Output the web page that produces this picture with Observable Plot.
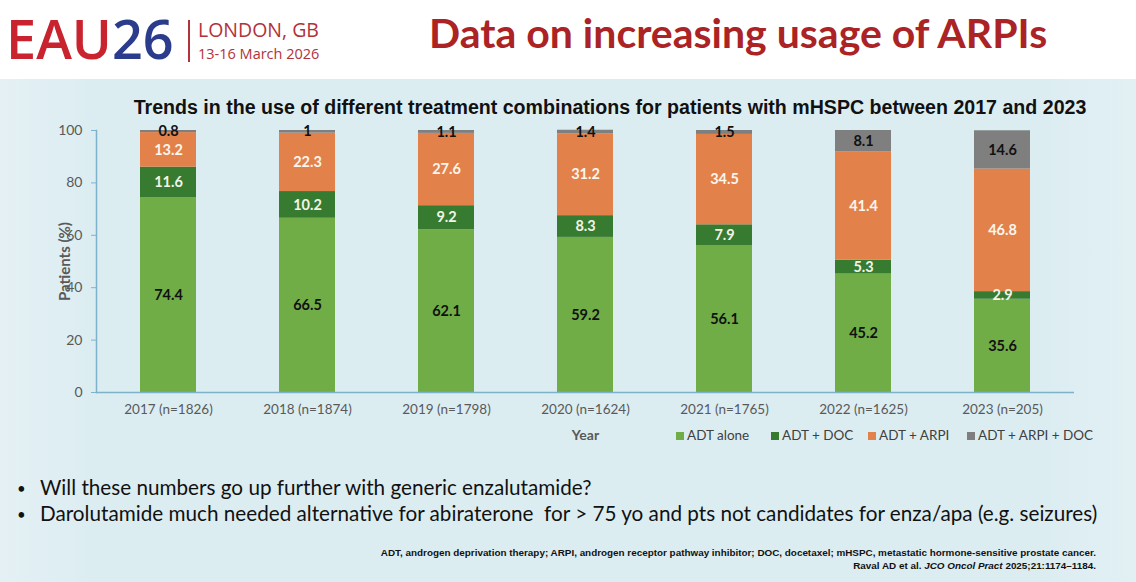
<!DOCTYPE html>
<html>
<head>
<meta charset="utf-8">
<script src="https://cdn.jsdelivr.net/npm/d3@7"></script>
<script src="https://cdn.jsdelivr.net/npm/@observablehq/plot@0.6"></script>
<style>
  html, body { margin: 0; padding: 0; }
  body { width: 1136px; height: 582px; position: relative; overflow: hidden; background: #ffffff; font-family: Lato, "Open Sans", sans-serif; }
  .header { position: absolute; left: 0; top: 0; width: 1136px; height: 79px; background: #ffffff; }
  .panel { position: absolute; left: 0; top: 79px; width: 1136px; height: 503px; background: linear-gradient(90deg, #e4f0f4 0%, #dcedf2 8%, #dcedf2 92%, #e2f0f4 100%); }
  .logo { position: absolute; left: 6px; top: 5px; font-family: "Open Sans", sans-serif; font-weight: 600; font-size: 54px; letter-spacing: 0px; line-height: 66px; }
  .logo .eau { color: #c9232f; }
  .logo .n26 { color: #2c3c8c; }
  .vbar { position: absolute; left: 188px; top: 20px; width: 1.5px; height: 42px; background: #b3323b; }
  .city { position: absolute; left: 198px; top: 18px; font-family: "Open Sans", sans-serif; font-size: 19.5px; color: #b2323b; line-height: 24px; }
  .date { position: absolute; left: 198px; top: 44px; font-family: "Open Sans", sans-serif; font-size: 14.5px; color: #b2323b; line-height: 20px; }
  .slidetitle { position: absolute; left: 429px; top: 8px; font-family: Lato, sans-serif; font-weight: 700; font-size: 41px; color: #ab2324; line-height: 50px; white-space: nowrap; }
  .charttitle { position: absolute; left: 0; width: 1220px; top: 96px; text-align: center; font-family: "Liberation Sans", Arial, sans-serif; font-weight: 700; font-size: 19.6px; color: #111; white-space: nowrap; }
  #chart { position: absolute; left: 0; top: 120px; }
  .legend { position: absolute; left: 676px; top: 427px; font-family: Lato, sans-serif; font-size: 13.5px; color: #404040; white-space: nowrap; }
  .legend span.item { position: absolute; top: 0; }
  .legend i { display: inline-block; width: 8px; height: 8px; margin-right: 3px; vertical-align: 0px; }
  .bullets { position: absolute; left: 14px; top: 474px; font-family: Lato, sans-serif; font-size: 20.7px; color: #111; line-height: 26px; white-space: nowrap; }
  .bullets div { position: relative; padding-left: 26px; }
  .bullets div::before { content: "•"; position: absolute; left: 3px; top: 1px; font-size: 15px; }
  .foot { position: absolute; right: 40px; top: 546px; text-align: right; font-family: "Liberation Sans", Arial, sans-serif; font-size: 9.9px; font-weight: 700; color: #111; line-height: 13px; white-space: nowrap; }
</style>
</head>
<body>
<div class="header"></div>
<div class="panel"></div>
<div class="logo"><span class="eau">EAU</span><span class="n26">26</span></div>
<div class="vbar"></div>
<div class="city">LONDON, GB</div>
<div class="date">13-16 March 2026</div>
<div class="slidetitle">Data on increasing usage of ARPIs</div>
<div class="charttitle">Trends in the use of different treatment combinations for patients with mHSPC between 2017 and 2023</div>
<div id="chart"></div>
<div class="legend" id="legend"></div>
<div class="bullets">
  <div>Will these numbers go up further with generic enzalutamide?</div>
  <div>Darolutamide much needed alternative for abiraterone&nbsp; for &gt; 75 yo and pts not candidates for enza/apa (e.g. seizures)</div>
</div>
<div class="foot">ADT, androgen deprivation therapy; ARPI, androgen receptor pathway inhibitor; DOC, docetaxel; mHSPC, metastatic hormone-sensitive prostate cancer.<br>Raval AD et al. <i>JCO Oncol Pract</i> 2025;21:1174–1184.</div>
<script>
// ---- data ----
const years = ["2017 (n=1826)", "2018 (n=1874)", "2019 (n=1798)", "2020 (n=1624)", "2021 (n=1765)", "2022 (n=1625)", "2023 (n=205)"];
const seriesNames = ["ADT alone", "ADT + DOC", "ADT + ARPI", "ADT + ARPI + DOC"];
const adtAlone   = [74.4, 66.5, 62.1, 59.2, 56.1, 45.2, 35.6];
const adtDoc     = [11.6, 10.2, 9.2, 8.3, 7.9, 5.3, 2.9];
const adtArpi    = [13.2, 22.3, 27.6, 31.2, 34.5, 41.4, 46.8];
const adtArpiDoc = [0.8, 1, 1.1, 1.4, 1.5, 8.1, 14.6];
const yTicks = [0, 20, 40, 60, 80, 100];
const seriesColors = ["#70ad47", "#367b30", "#e2824a", "#7f7f7f"];
const labelColors = ["#111111", "#f4f4e6", "#fbf6ee", "#111111"];

const valuesBySeries = [adtAlone, adtDoc, adtArpi, adtArpiDoc];
const table = [];
seriesNames.forEach((s, si) => {
  years.forEach((yr, yi) => {
    table.push({ year: yr, series: s, value: valuesBySeries[si][yi], labelColor: labelColors[si] });
  });
});

const stackOpts = { x: "year", y: "value", z: "series", order: seriesNames };

const chart = Plot.plot({
  width: 1136,
  height: 325,
  marginLeft: 96,
  marginRight: 62,
  marginTop: 10,
  marginBottom: 53,
  style: { background: "transparent", fontFamily: "Lato, sans-serif", overflow: "visible" },
  x: { domain: years, paddingInner: 0.6, paddingOuter: 0.3, label: null },
  y: { domain: [0, 100], label: null },
  color: { domain: seriesNames, range: seriesColors },
  marks: [
    Plot.barY(table, Plot.stackY({ ...stackOpts, fill: "series" })),
    Plot.ruleY([0], { stroke: "#7db3ca", strokeWidth: 1.5 }),
    Plot.frame({ anchor: "left", stroke: "#7db3ca", strokeWidth: 1.5 }),
    Plot.axisY({ ticks: yTicks, tickSize: 5, tickPadding: 9, stroke: "#7db3ca", fill: "#595959", fontSize: 14, label: null }),
    Plot.axisY({ ticks: [], label: "Patients (%)", labelAnchor: "center", labelOffset: 37, labelArrow: "none", fontSize: 15, fontWeight: "bold", fill: "#595959", tickSize: 0 }),
    Plot.axisX({ tickSize: 0, tickPadding: 12, fill: "#595959", fontSize: 13.5, label: "Year", labelAnchor: "center", labelOffset: 47, labelArrow: "none" }),
    Plot.text(table, Plot.stackY({ ...stackOpts, text: d => String(d.value), fill: "labelColor", fontWeight: "bold", fontSize: 14.5 }))
  ]
});
document.getElementById("chart").appendChild(chart);

// style the "Year" label bold
chart.querySelectorAll("g[aria-label='x-axis label'] text").forEach(t => { t.setAttribute("font-weight", "bold"); t.setAttribute("font-size", "14"); });

// legend
const legendOffsets = [0, 95, 192, 291];
const legend = document.getElementById("legend");
seriesNames.forEach((s, i) => {
  const item = document.createElement("span");
  item.className = "item";
  item.style.left = legendOffsets[i] + "px";
  item.innerHTML = `<i style="background:${seriesColors[i]}"></i>${s}`;
  legend.appendChild(item);
});
</script>
</body>
</html>
